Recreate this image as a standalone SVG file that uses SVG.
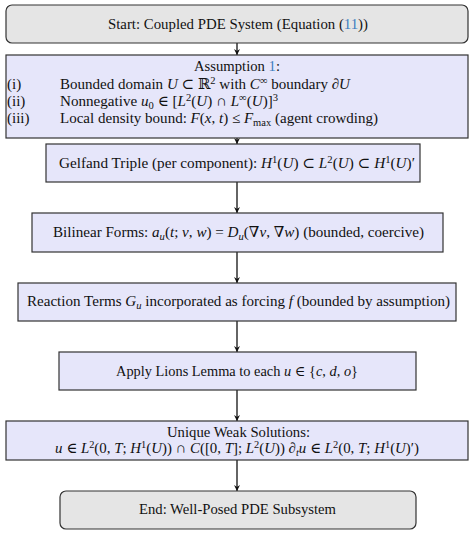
<svg xmlns="http://www.w3.org/2000/svg" width="474" height="533" viewBox="0 0 474 533">
<defs>
<marker id="ah" markerWidth="8" markerHeight="8" refX="7" refY="4" orient="auto" markerUnits="userSpaceOnUse">
<path d="M1,1 L7,4 L1,7 L3,4 Z" fill="#111"/>
</marker>
</defs>
<style>
text{font-family:"Liberation Serif","DejaVu Serif",serif;font-size:15px;fill:#111}
.c{text-anchor:middle}
.i{font-style:italic}
.sm{font-size:14.3px}
.sp{font-size:10.5px;baseline-shift:5px}
.sb{font-size:10.5px;baseline-shift:-3px}
.ref{fill:#3d7ebf}
.term{fill:#e5e5e5;stroke:#333;stroke-width:1.2}
.proc{fill:#e6e6fa;stroke:#333;stroke-width:1.2}
.conn line{stroke:#111;stroke-width:1.3;marker-end:url(#ah)}
</style>
<rect width="474" height="533" fill="#fff"/>
<g class="conn" id="connectors">
<line x1="237" y1="43" x2="237" y2="55"/>
<line x1="237" y1="138" x2="237" y2="144"/>
<line x1="237" y1="182" x2="237" y2="213"/>
<line x1="237" y1="252" x2="237" y2="283"/>
<line x1="237" y1="321" x2="237" y2="352"/>
<line x1="237" y1="390" x2="237" y2="421"/>
<line x1="237" y1="460" x2="237" y2="491"/>
</g>
<g id="start">
<rect class="term" x="6" y="5" width="462" height="38" rx="6"/>
<text class="c sm" x="238" y="29" textLength="260" lengthAdjust="spacingAndGlyphs">Start: Coupled PDE System (Equation (<tspan class="ref">11</tspan>))</text>
</g>
<g id="assumption">
<rect class="proc" x="6" y="55" width="462" height="83"/>
<text class="c sm" x="237" y="71" textLength="86" lengthAdjust="spacingAndGlyphs">Assumption <tspan class="ref">1</tspan>:</text>
<text x="7" y="89">(i)</text>
<text x="7" y="106">(ii)</text>
<text x="7" y="123">(iii)</text>
<text x="60" y="89" textLength="290" lengthAdjust="spacingAndGlyphs">Bounded domain <tspan class="i">U</tspan> ⊂ ℝ<tspan class="sp">2</tspan> with <tspan class="i">C</tspan><tspan class="sp">∞</tspan> boundary ∂<tspan class="i">U</tspan></text>
<text x="60" y="106" textLength="218" lengthAdjust="spacingAndGlyphs">Nonnegative <tspan class="i">u</tspan><tspan class="sb">0</tspan> ∈ [<tspan class="i">L</tspan><tspan class="sp">2</tspan>(<tspan class="i">U</tspan>) ∩ <tspan class="i">L</tspan><tspan class="sp">∞</tspan>(<tspan class="i">U</tspan>)]<tspan class="sp">3</tspan></text>
<text x="60" y="123" textLength="318" lengthAdjust="spacingAndGlyphs">Local density bound: <tspan class="i">F</tspan>(<tspan class="i">x</tspan>, <tspan class="i">t</tspan>) ≤ <tspan class="i">F</tspan><tspan class="sb">max</tspan> (agent crowding)</text>
</g>
<g id="gelfand">
<rect class="proc" x="46" y="144" width="374" height="38"/>
<text x="59" y="168" textLength="356" lengthAdjust="spacingAndGlyphs">Gelfand Triple (per component): <tspan class="i">H</tspan><tspan class="sp">1</tspan>(<tspan class="i">U</tspan>) ⊂ <tspan class="i">L</tspan><tspan class="sp">2</tspan>(<tspan class="i">U</tspan>) ⊂ <tspan class="i">H</tspan><tspan class="sp">1</tspan>(<tspan class="i">U</tspan>)′</text>
</g>
<g id="bilinear">
<rect class="proc" x="32" y="213" width="411" height="39"/>
<text x="53" y="237" textLength="371" lengthAdjust="spacingAndGlyphs">Bilinear Forms: <tspan class="i">a</tspan><tspan class="sb i">u</tspan>(<tspan class="i">t</tspan>; <tspan class="i">v</tspan>, <tspan class="i">w</tspan>) = <tspan class="i">D</tspan><tspan class="sb i">u</tspan>(∇<tspan class="i">v</tspan>, ∇<tspan class="i">w</tspan>) (bounded, coercive)</text>
</g>
<g id="reaction">
<rect class="proc" x="18" y="283" width="438" height="38"/>
<text x="27" y="306" textLength="423" lengthAdjust="spacingAndGlyphs">Reaction Terms <tspan class="i">G</tspan><tspan class="sb i">u</tspan> incorporated as forcing <tspan class="i">f</tspan> (bounded by assumption)</text>
</g>
<g id="lions">
<rect class="proc" x="59" y="352" width="357" height="38"/>
<text class="sm" x="116" y="376" textLength="242" lengthAdjust="spacingAndGlyphs">Apply Lions Lemma to each <tspan class="i">u</tspan> ∈ {<tspan class="i">c</tspan>, <tspan class="i">d</tspan>, <tspan class="i">o</tspan>}</text>
</g>
<g id="solutions">
<rect class="proc" x="6" y="421" width="462" height="39"/>
<text x="167" y="437" textLength="143" lengthAdjust="spacingAndGlyphs">Unique Weak Solutions:</text>
<text x="55" y="453" textLength="364" lengthAdjust="spacingAndGlyphs"><tspan class="i">u</tspan> ∈ <tspan class="i">L</tspan><tspan class="sp">2</tspan>(0, <tspan class="i">T</tspan>; <tspan class="i">H</tspan><tspan class="sp">1</tspan>(<tspan class="i">U</tspan>)) ∩ <tspan class="i">C</tspan>([0, <tspan class="i">T</tspan>]; <tspan class="i">L</tspan><tspan class="sp">2</tspan>(<tspan class="i">U</tspan>)) ∂<tspan class="sb i">t</tspan><tspan class="i">u</tspan> ∈ <tspan class="i">L</tspan><tspan class="sp">2</tspan>(0, <tspan class="i">T</tspan>; <tspan class="i">H</tspan><tspan class="sp">1</tspan>(<tspan class="i">U</tspan>)′)</text>
</g>
<g id="end">
<rect class="term" x="60" y="491" width="356" height="38" rx="6"/>
<text class="c sm" x="237.5" y="514" textLength="197" lengthAdjust="spacingAndGlyphs">End: Well-Posed PDE Subsystem</text>
</g>
</svg>
